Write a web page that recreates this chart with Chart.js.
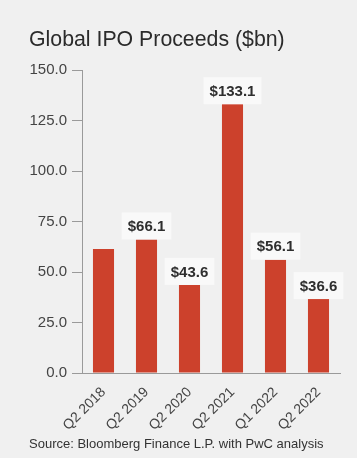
<!DOCTYPE html>
<html><head><meta charset="utf-8">
<script src="https://cdn.jsdelivr.net/npm/chart.js@4"></script>
<style>
html,body{margin:0;padding:0;background:#f0f0f0;}
body{width:357px;height:458px;position:relative;overflow:hidden;font-family:"Liberation Sans",Arial,sans-serif;}
#title{position:absolute;left:29px;top:27px;font-size:21.3px;color:#2b2b2b;white-space:nowrap;}
#source{position:absolute;left:29px;top:436px;font-size:13px;color:#333;white-space:nowrap;}
#wrap{position:absolute;left:0;top:0;width:357px;height:458px;}
</style></head>
<body>
<div id="wrap"><canvas id="c" width="357" height="458"></canvas></div>
<div id="title">Global IPO Proceeds ($bn)</div>
<div id="source">Source: Bloomberg Finance L.P. with PwC analysis</div>
<script>
const categories = ["Q2 2018","Q2 2019","Q2 2020","Q2 2021","Q1 2022","Q2 2022"];
const proceeds = [61.4, 66.1, 43.6, 133.1, 56.1, 36.6];
const valueLabels = [null, "$66.1", "$43.6", "$133.1", "$56.1", "$36.6"];
const yTicks = [0, 25, 50, 75, 100, 125, 150];

const labelPlugin = {
  id: 'valueBoxes',
  afterDatasetsDraw(chart) {
    const ctx = chart.ctx;
    const meta = chart.getDatasetMeta(0);
    ctx.save();
    ctx.font = 'bold 15px "Liberation Sans", Arial, sans-serif';
    meta.data.forEach((bar, i) => {
      const txt = valueLabels[i];
      if (!txt) return;
      const w = ctx.measureText(txt).width + 12;
      const h = 27;
      const x = bar.x - w / 2;
      const y = bar.y - h;
      ctx.fillStyle = '#f9f9f9';
      ctx.fillRect(x, y, w, h);
      ctx.fillStyle = '#2e2e2e';
      ctx.textAlign = 'center';
      ctx.textBaseline = 'middle';
      ctx.fillText(txt, bar.x, y + h / 2 + 1);
    });
    ctx.restore();
  }
};

new Chart(document.getElementById('c'), {
  type: 'bar',
  data: {
    labels: categories,
    datasets: [{
      data: proceeds,
      backgroundColor: '#cc412c',
      borderWidth: 0,
      barPercentage: 0.49,
      categoryPercentage: 1.0
    }]
  },
  options: {
    responsive: false,
    animation: false,
    devicePixelRatio: 1,
    layout: { padding: { top: 70, left: 0, right: 17, bottom: 0 } },
    plugins: { legend: { display: false }, tooltip: { enabled: false }, title: { display: false } },
    scales: {
      x: {
        grid: { display: false, drawTicks: false },
        border: { display: true, color: '#9a9a9a', width: 1 },
        ticks: {
          color: '#444',
          font: { size: 14, family: '"Liberation Sans", Arial, sans-serif' },
          maxRotation: 45, minRotation: 45, padding: 11
        },
        afterFit(s) { s.height = 85; }
      },
      y: {
        min: 0, max: 150,
        afterBuildTicks(s) { s.ticks = yTicks.map(v => ({ value: v })); },
        grid: { drawOnChartArea: false, drawTicks: true, tickLength: 10, color: '#9a9a9a' },
        border: { display: true, color: '#9a9a9a', width: 1 },
        ticks: {
          color: '#444',
          font: { size: 15, family: '"Liberation Sans", Arial, sans-serif' },
          padding: 5,
          callback: v => Number(v).toFixed(1)
        },
        afterFit(s) { s.width = 82; }
      }
    }
  },
  plugins: [labelPlugin]
});
</script>
</body></html>
